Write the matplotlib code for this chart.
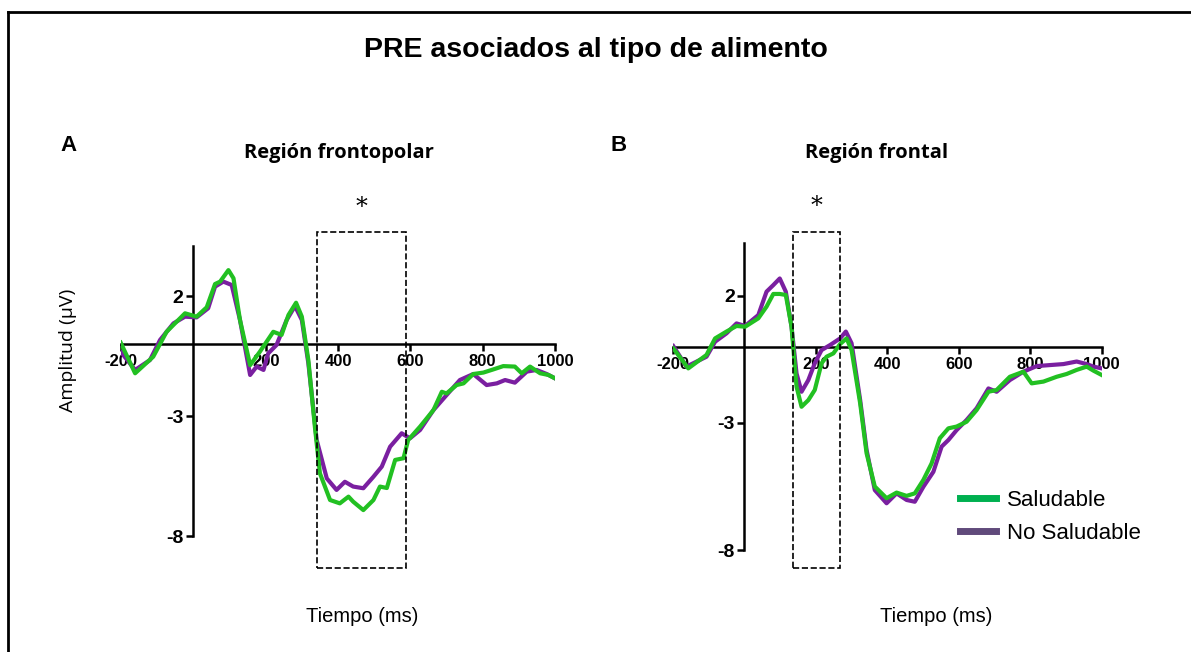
import matplotlib.pyplot as plt
from matplotlib.patches import Rectangle
from matplotlib.lines import Line2D

plt.rcParams['font.family'] = ['Liberation Sans', 'DejaVu Sans']

# Panel A - Región frontopolar
a_sal_t = [-201, -161, -111, -74, -23, 9, 37, 60, 74, 97, 111, 129, 157, 184, 221, 244, 263, 284, 300,
           318, 336, 350, 378, 405, 429, 442, 470, 498, 516, 535, 558, 581, 594, 627, 664, 687, 700,
           728, 747, 774, 802, 829, 857, 889, 908, 931, 959, 982, 1000]
a_sal_v = [0.06, -1.22, -0.53, 0.51, 1.28, 1.14, 1.53, 2.5, 2.6, 3.08, 2.74, 1.0, -0.88, -0.32, 0.51,
           0.38, 1.21, 1.72, 1.14, -0.67, -3.44, -5.39, -6.5, -6.64, -6.36, -6.57, -6.92, -6.5, -5.94,
           -6.0, -4.83, -4.76, -4.0, -3.44, -2.75, -1.99, -2.06, -1.71, -1.64, -1.25, -1.19, -1.06,
           -0.92, -0.94, -1.22, -0.94, -1.22, -1.29, -1.43]
a_nos_t = [-201, -161, -120, -92, -55, -23, 9, 41, 60, 83, 106, 129, 157, 175, 194, 207, 230, 258, 281,
           300, 318, 341, 369, 396, 419, 442, 470, 498, 521, 544, 576, 599, 627, 664, 700, 737, 774,
           811, 839, 862, 889, 922, 949, 977, 1000]
a_nos_v = [-0.32, -1.08, -0.67, 0.17, 0.86, 1.14, 1.11, 1.49, 2.39, 2.6, 2.46, 1.0, -1.29, -0.94,
           -1.08, -0.39, -0.04, 1.0, 1.58, 1.0, -0.8, -4.0, -5.6, -6.08, -5.74, -5.94, -6.01, -5.53,
           -5.11, -4.28, -3.72, -3.93, -3.58, -2.75, -2.13, -1.5, -1.25, -1.71, -1.64, -1.5, -1.61,
           -1.15, -1.08, -1.25, -1.43]

# Panel B - Región frontal
b_sal_t = [-199, -157, -106, -82, -50, -22, 2, 39, 62, 81, 99, 116, 132, 146, 160, 179, 197, 216, 230,
           249, 268, 286, 300, 324, 342, 365, 398, 426, 454, 477, 501, 524, 547, 571, 594, 622, 650,
           683, 706, 743, 781, 804, 837, 874, 902, 930, 958, 977, 1000]
b_sal_v = [-0.06, -0.85, -0.32, 0.33, 0.6, 0.82, 0.79, 1.12, 1.58, 2.08, 2.08, 2.04, 0.79, -1.57,
           -2.36, -2.1, -1.7, -0.65, -0.39, -0.26, 0.11, 0.33, -0.13, -2.22, -4.19, -5.5, -5.96,
           -5.74, -5.87, -5.77, -5.24, -4.59, -3.6, -3.21, -3.14, -2.95, -2.49, -1.77, -1.7, -1.18,
           -0.98, -1.44, -1.37, -1.18, -1.07, -0.91, -0.78, -0.94, -1.11]
b_nos_t = [-199, -162, -106, -82, -50, -22, 2, 39, 62, 81, 99, 116, 132, 146, 160, 179, 197, 216, 240,
           268, 284, 300, 324, 342, 365, 398, 426, 454, 477, 501, 529, 552, 571, 594, 622, 650, 683,
           706, 743, 781, 818, 855, 893, 930, 958, 977, 1000]
b_nos_v = [0.03, -0.78, -0.39, 0.2, 0.53, 0.92, 0.82, 1.25, 2.17, 2.43, 2.69, 2.17, 0.79, -1.05,
           -1.77, -1.31, -0.65, -0.13, 0.07, 0.33, 0.6, 0.14, -2.09, -4.06, -5.64, -6.16, -5.77,
           -6.03, -6.1, -5.51, -4.92, -3.93, -3.67, -3.28, -2.88, -2.42, -1.64, -1.77, -1.31, -0.98,
           -0.76, -0.72, -0.68, -0.58, -0.68, -0.78, -0.85]

x_ticks = [-200, 200, 400, 600, 800, 1000]
y_ticks = [2, -3, -8]
window_a = (341, 588)
window_b = (135, 268)

GREEN = '#22c022'
PURPLE = '#7a1fa0'


def setup_axes(ax):
    ax.set_xlim(-200, 1000)
    ax.set_ylim(-9.5, 5)
    ax.spines['left'].set_position(('data', 0))
    ax.spines['bottom'].set_position(('data', 0))
    ax.spines['top'].set_visible(False)
    ax.spines['right'].set_visible(False)
    ax.spines['left'].set_bounds(-8, 4.1)
    ax.spines['bottom'].set_bounds(-200, 1000)
    for s in ('left', 'bottom'):
        ax.spines[s].set_linewidth(1.8)
    ax.set_xticks(x_ticks)
    ax.set_xticklabels([str(t) for t in x_ticks], fontsize=12, fontweight='bold')
    ax.set_yticks(y_ticks)
    ax.set_yticklabels([str(t) for t in y_ticks], fontsize=14, fontweight='bold')
    ax.tick_params(axis='both', direction='out', width=1.8, length=5, pad=2)
    ax.patch.set_visible(False)


fig = plt.figure(figsize=(11.91, 6.52), dpi=100)

axA = fig.add_axes([0.1016, 0.1227, 0.3644, 0.5337])
axB = fig.add_axes([0.565, 0.098, 0.36, 0.5649])

for ax, sal_t, sal_v, nos_t, nos_v, win, box_y in [
        (axA, a_sal_t, a_sal_v, a_nos_t, a_nos_v, window_a, (-9.32, 4.68)),
        (axB, b_sal_t, b_sal_v, b_nos_t, b_nos_v, window_b, (-8.72, 4.53))]:
    setup_axes(ax)
    ax.plot(nos_t, nos_v, color=PURPLE, lw=3, solid_joinstyle='round', zorder=3)
    ax.plot(sal_t, sal_v, color=GREEN, lw=3, solid_joinstyle='round', zorder=4)
    ax.add_patch(Rectangle((win[0], box_y[0]), win[1] - win[0], box_y[1] - box_y[0],
                           fill=False, ls='--', lw=1.2, ec='black', clip_on=False, zorder=5))
    ax.text((win[0] + win[1]) / 2, box_y[1] + 0.55, '*', ha='center', va='bottom',
            fontsize=17, family='DejaVu Serif')

handles = [Line2D([], [], color='#00b050', lw=5), Line2D([], [], color='#604a7b', lw=5)]
fig.legend(handles, ['Saludable', 'No Saludable'], loc='upper left',
           bbox_to_anchor=(0.806, 0.249), bbox_transform=fig.transFigure, frameon=False,
           fontsize=16, handlelength=1.6, handletextpad=0.5, labelspacing=0.55,
           borderpad=0, borderaxespad=0)

fig.text(0.5, 0.924, 'PRE asociados al tipo de alimento', ha='center', va='center',
         fontsize=20.5, fontweight='bold')
fig.text(0.051, 0.777, 'A', fontsize=16, fontweight='bold', va='center')
fig.text(0.513, 0.777, 'B', fontsize=16, fontweight='bold', va='center')
fig.text(0.285, 0.766, 'Región frontopolar', ha='center', va='center', fontsize=14.5,
         fontweight='bold', family='Open Sans')
fig.text(0.736, 0.766, 'Región frontal', ha='center', va='center', fontsize=14.5,
         fontweight='bold', family='Open Sans')
fig.text(0.057, 0.463, 'Amplitud (µV)', rotation=90, ha='center', va='center', fontsize=14,
         family='Open Sans')
fig.text(0.304, 0.054, 'Tiempo (ms)', ha='center', va='center', fontsize=14.5)
fig.text(0.786, 0.054, 'Tiempo (ms)', ha='center', va='center', fontsize=14.5)

# outer frame
fig.add_artist(Line2D([0.0063, 1.0], [0.982, 0.982], color='black', lw=2))
fig.add_artist(Line2D([0.0063, 0.0063], [0.0, 0.982], color='black', lw=2))

fig.savefig('out.png', dpi=100)
